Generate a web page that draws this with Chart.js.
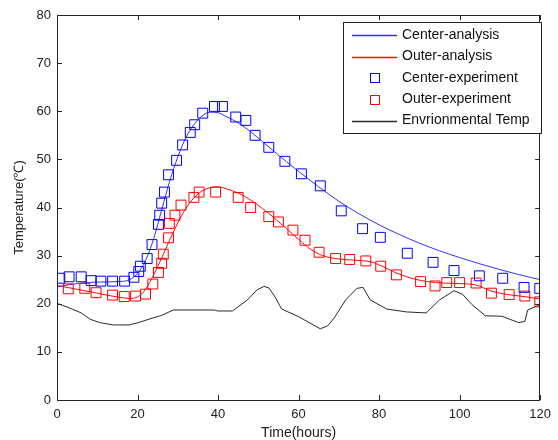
<!DOCTYPE html>
<html>
<head>
<meta charset="utf-8">
<script src="https://cdn.jsdelivr.net/npm/chart.js@4.4.1/dist/chart.umd.min.js"></script>
<style>
html,body{margin:0;padding:0;background:#fff;}
#c{display:block;}
</style>
</head>
<body>
<canvas id="c" width="558" height="440"></canvas>
<script>
// ---- data ----
const xTicks = [0, 20, 40, 60, 80, 100, 120];
const yTicks = [0, 10, 20, 30, 40, 50, 60, 70, 80];

const centerAnaTime = [0,5,10,15,18,20,22,24,26,28,30,32,34,36,38,40,42,45,48,51,54,57,60,65,70,75,80,85,90,95,100,105,110,115,120];
const centerAnaTemp = [23.5,24.2,24.5,24.6,25.0,26.3,29.0,33.5,39.5,45.5,50.5,54.5,57.2,59.0,59.8,59.7,58.9,57.6,55.8,53.7,51.6,49.5,47.5,44.3,41.3,38.7,36.4,34.4,32.6,31.0,29.6,28.3,27.1,26.0,25.0];

const outerAnaTime = [0,5,10,15,18,20,22,24,26,28,30,32,34,36,38,40,42,45,48,51,54,57,60,63,66,70,75,78,81,84,88,92,96,100,104,108,112,116,120];
const outerAnaTemp = [23.8,23.0,22.2,21.4,21.1,21.4,23.0,26.0,29.5,33.3,36.8,39.8,42.0,43.4,44.1,44.3,43.9,43.0,41.6,39.8,37.8,35.6,33.4,31.3,30.0,29.3,29.0,28.7,27.7,26.5,25.3,24.6,24.3,24.2,23.9,22.6,21.9,21.5,21.0];

const centerExpTime = [0.7,3.0,6.0,8.5,10.9,13.8,16.8,19.1,20.3,20.7,22.4,23.6,25.2,25.5,26.0,26.7,27.7,29.7,31.2,33.1,34.2,36.2,39.1,41.1,44.4,46.9,49.2,52.6,56.6,60.7,65.4,70.6,75.9,80.3,87.0,93.4,98.6,104.9,110.7,116.0,119.9];
const centerExpTemp = [25.3,25.6,25.6,24.8,24.7,24.7,24.7,25.5,26.7,27.8,29.4,32.3,36.5,38.4,40.9,43.2,46.8,49.8,53.0,55.6,57.2,59.6,61.0,61.0,58.8,58.1,55.0,52.5,49.6,47.0,44.5,39.3,35.6,33.8,30.5,28.6,26.9,25.8,25.3,23.4,23.2];

const outerExpTime = [2.8,6.9,9.7,13.8,16.7,19.5,22.0,23.8,25.2,26.0,26.4,27.7,27.9,29.3,30.8,34.0,35.3,39.4,45.0,48.1,52.6,55.0,58.6,61.6,65.1,69.2,72.7,76.7,80.4,84.3,90.3,93.9,96.8,100.0,104.1,107.9,112.3,116.2,119.9];
const outerExpTemp = [23.1,23.2,22.3,21.8,21.5,21.6,22.0,24.1,26.5,28.4,30.3,33.7,36.7,38.4,40.5,42.1,43.2,43.2,42.1,40.0,38.1,37.0,35.3,33.2,30.7,29.4,29.2,28.9,27.8,26.0,24.6,23.7,24.4,24.4,24.3,22.2,21.9,21.6,20.4];

const envTime = [0,3.2,6,8.2,10.5,13.9,17.9,20.3,23.6,26,28.9,39.1,39.9,43.6,47.3,49.7,51.4,52.6,54.1,55.8,59.8,65.4,67.2,68.8,71.7,74.5,76,77.8,81.9,86.8,91.7,95,98.6,100.7,103.1,106.4,110.5,114.6,116.2,116.9,119.4,120];
const envTemp = [20.1,19.1,18.1,16.8,16.1,15.6,15.6,16.1,17.0,17.6,18.7,18.7,18.5,18.5,20.8,22.9,23.6,23.3,21.5,18.9,17.4,14.8,15.4,17.0,20.8,23.2,23.4,20.8,18.9,18.3,18.1,20.8,22.7,22.0,19.8,17.5,17.4,16.1,16.3,18.7,19.6,19.8];

const seriesNames = ['Center-analysis', 'Outer-analysis', 'Center-experiment', 'Outer-experiment', 'Envrionmental Temp'];
const xTitle = 'Time(hours)';
const yTitle = 'Temperature(\u2103)';

// ---- styles ----
const BLUE_LINE = 'rgb(50,50,255)';
const RED_LINE = 'rgb(255,10,10)';
const BLUE_PT = '#0000ff';
const RED_PT = '#ff0000';
const ENV = '#2a2a2a';
const AXIS = '#262626';
const FONT = '"Liberation Sans", Arial, sans-serif';
const legendColors = [BLUE_LINE, RED_LINE, BLUE_PT, RED_PT, ENV];
const legendIsLine = [true, true, false, false, true];

const pairs = (xs, ys) => xs.map((x, i) => ({x: x, y: ys[i]}));

const framePlugin = {
  id: 'frame',
  afterDraw(chart) {
    const {ctx, chartArea: a, scales} = chart;
    ctx.save();
    ctx.strokeStyle = AXIS;
    ctx.lineWidth = 1;
    ctx.beginPath();
    ctx.rect(Math.round(a.left) + 0.5, Math.round(a.top) + 0.5, Math.round(a.right - a.left) - 1, Math.round(a.bottom - a.top));
    ctx.stroke();
    const tl = 5;
    ctx.beginPath();
    xTicks.forEach(v => {
      const px = Math.round(scales.x.getPixelForValue(v)) + 0.5;
      ctx.moveTo(px, a.bottom); ctx.lineTo(px, a.bottom - tl);
      ctx.moveTo(px, a.top); ctx.lineTo(px, a.top + tl);
    });
    yTicks.forEach(v => {
      const py = Math.round(scales.y.getPixelForValue(v)) + 0.5;
      ctx.moveTo(a.left, py); ctx.lineTo(a.left + tl, py);
      ctx.moveTo(a.right, py); ctx.lineTo(a.right - tl, py);
    });
    ctx.stroke();

    // legend
    const lx = 343.5, ly = 22.5, lw = 198, lh = 111;
    ctx.fillStyle = '#fff';
    ctx.fillRect(lx, ly, lw, lh);
    ctx.strokeStyle = '#222';
    ctx.lineWidth = 1;
    ctx.strokeRect(lx, ly, lw, lh);
    const rows = [35, 56.5, 78, 99.5, 120.5];
    ctx.font = '14px ' + FONT;
    ctx.textBaseline = 'middle';
    ctx.textAlign = 'left';
    seriesNames.forEach((name, i) => {
      const y = rows[i];
      ctx.strokeStyle = legendColors[i];
      if (legendIsLine[i]) {
        ctx.lineWidth = 1.3;
        ctx.beginPath();
        ctx.moveTo(352, Math.round(y) + 0.5);
        ctx.lineTo(397, Math.round(y) + 0.5);
        ctx.stroke();
      } else {
        ctx.lineWidth = 1;
        ctx.strokeRect(370.5, Math.round(y) - 4.5, 9, 9);
      }
      ctx.fillStyle = '#111';
      ctx.fillText(name, 402, y);
    });
    ctx.restore();
  }
};

new Chart(document.getElementById('c'), {
  type: 'scatter',
  data: {
    datasets: [
      {label: seriesNames[0], data: pairs(centerAnaTime, centerAnaTemp), showLine: true, borderColor: BLUE_LINE, borderWidth: 1, pointRadius: 0, cubicInterpolationMode: 'monotone', order: 3},
      {label: seriesNames[1], data: pairs(outerAnaTime, outerAnaTemp), showLine: true, borderColor: RED_LINE, borderWidth: 1, pointRadius: 0, cubicInterpolationMode: 'monotone', order: 3},
      {label: seriesNames[2], data: pairs(centerExpTime, centerExpTemp), showLine: false, borderColor: BLUE_PT, backgroundColor: 'rgba(0,0,0,0)', pointStyle: 'rect', pointRadius: 7, borderWidth: 1, order: 1},
      {label: seriesNames[3], data: pairs(outerExpTime, outerExpTemp), showLine: false, borderColor: RED_PT, backgroundColor: 'rgba(0,0,0,0)', pointStyle: 'rect', pointRadius: 7, borderWidth: 1, order: 2},
      {label: seriesNames[4], data: pairs(envTime, envTemp), showLine: true, borderColor: ENV, borderWidth: 1, pointRadius: 0, tension: 0, order: 4}
    ]
  },
  options: {
    responsive: false,
    animation: false,
    devicePixelRatio: 1,
    layout: {padding: {top: 15, right: 11, left: 0, bottom: 0}},
    plugins: {legend: {display: false}, tooltip: {enabled: false}},
    scales: {
      x: {
        type: 'linear', min: 0, max: 120,
        afterBuildTicks: s => { s.ticks = xTicks.map(v => ({value: v})); },
        afterFit: s => { s.height = 40; },
        grid: {display: false, drawTicks: false},
        border: {display: false},
        ticks: {padding: 7, color: '#222', font: {family: FONT, size: 13}, maxRotation: 0, autoSkip: false},
        title: {display: true, text: xTitle, color: '#222', font: {family: FONT, size: 14, lineHeight: 1}, padding: {top: 0, bottom: 0}}
      },
      y: {
        type: 'linear', min: 0, max: 80,
        afterBuildTicks: s => { s.ticks = yTicks.map(v => ({value: v})); },
        afterFit: s => { s.width = 57; },
        grid: {display: false, drawTicks: false},
        border: {display: false},
        ticks: {padding: 6, color: '#222', font: {family: FONT, size: 13}, autoSkip: false},
        title: {display: true, text: yTitle, color: '#222', font: {family: FONT, size: 13, lineHeight: 1}, padding: {top: 13, bottom: 0}}
      }
    }
  },
  plugins: [framePlugin]
});
</script>
</body>
</html>
